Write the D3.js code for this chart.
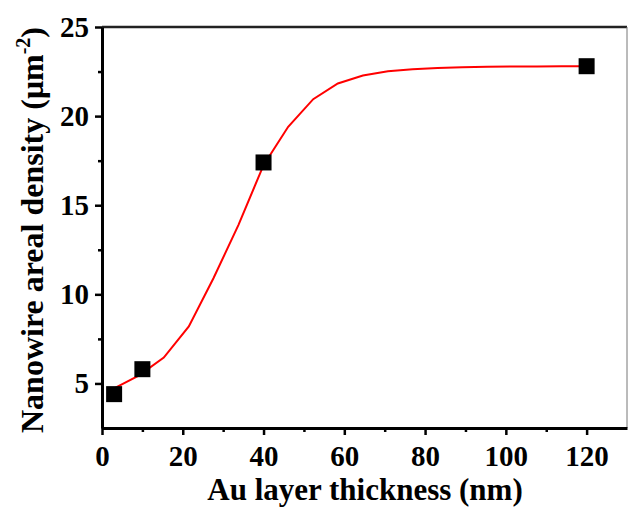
<!DOCTYPE html>
<html>
<head>
<meta charset="utf-8">
<script src="https://cdn.jsdelivr.net/npm/d3@7"></script>
<style>
  body { margin: 0; background: #fff; }
  svg { display: block; }
</style>
</head>
<body>
<div id="chart"></div>
<script>
// measured points
var thickness = [3, 10, 40, 120];
var density = [4.4, 5.8, 17.4, 22.8];

// fitted curve
var fitX = [3, 9.2, 15.3, 21.5, 27.6, 33.8, 40, 46.1, 52.3, 58.4, 64.6, 70.8, 76.9, 83.1, 89.2, 95.4, 101.6, 107.7, 113.8, 120];
var fitY = [4.72, 5.45, 6.45, 8.2, 10.9, 13.9, 17.25, 19.4, 20.95, 21.83, 22.28, 22.52, 22.63, 22.7, 22.74, 22.77, 22.78, 22.79, 22.8, 22.8];

var xTicks = [0, 20, 40, 60, 80, 100, 120];
var xMinor = [10, 30, 50, 70, 90, 110];
var yTicks = [5, 10, 15, 20, 25];
var yMinor = [7.5, 12.5, 17.5, 22.5];

var width = 628, height = 508;
var margin = { left: 102, top: 27, right: 1, bottom: 80 };
var fontFamily = "'Liberation Serif', 'Times New Roman', serif";

var svg = d3.select("#chart").append("svg")
  .attr("width", width)
  .attr("height", height);

var x = d3.scaleLinear().domain([0, 130]).range([margin.left, width - margin.right]);
var y = d3.scaleLinear().domain([2.5, 25]).range([height - margin.bottom, margin.top]);

// frame: top thick, right thin grey
svg.append("line")
  .attr("x1", x(0)).attr("x2", x(130))
  .attr("y1", y(25)).attr("y2", y(25))
  .attr("stroke", "#222").attr("stroke-width", 2.5);
svg.append("line")
  .attr("x1", x(130)).attr("x2", x(130))
  .attr("y1", y(25)).attr("y2", y(2.5))
  .attr("stroke", "#777").attr("stroke-width", 1);

// x axis
svg.append("g")
  .attr("transform", "translate(0," + y(2.5) + ")")
  .call(d3.axisBottom(x).tickValues(xTicks).tickSize(7).tickPadding(10).tickSizeOuter(0));
svg.append("g")
  .attr("transform", "translate(0," + y(2.5) + ")")
  .call(d3.axisBottom(x).tickValues(xMinor).tickSize(4).tickFormat("").tickSizeOuter(0))
  .select(".domain").remove();

// y axis
svg.append("g")
  .attr("transform", "translate(" + x(0) + ",0)")
  .call(d3.axisLeft(y).tickValues(yTicks).tickSize(7).tickPadding(6).tickSizeOuter(0));
svg.append("g")
  .attr("transform", "translate(" + x(0) + ",0)")
  .call(d3.axisLeft(y).tickValues(yMinor).tickSize(4).tickFormat("").tickSizeOuter(0))
  .select(".domain").remove();

svg.selectAll(".domain").attr("stroke", "#000").attr("stroke-width", 3);
svg.selectAll(".tick line").attr("stroke", "#000").attr("stroke-width", 2.5);
svg.selectAll(".tick text")
  .attr("fill", "#000")
  .style("font-family", fontFamily)
  .style("font-weight", "bold")
  .style("font-size", "29px");

// fit curve
var fitData = fitX.map(function (d, i) { return [d, fitY[i]]; });
svg.append("path")
  .datum(fitData)
  .attr("fill", "none")
  .attr("stroke", "#ff0000")
  .attr("stroke-width", 2)
  .attr("d", d3.line().x(function (d) { return x(d[0]); }).y(function (d) { return y(d[1]); }));

// squares
var sq = 16;
svg.selectAll("rect.pt")
  .data(thickness)
  .enter().append("rect")
  .attr("class", "pt")
  .attr("x", function (d) { return x(d) - sq / 2; })
  .attr("y", function (d, i) { return y(density[i]) - sq / 2; })
  .attr("width", sq).attr("height", sq)
  .attr("fill", "#000");

// titles
svg.append("text")
  .attr("x", 365)
  .attr("y", 500)
  .attr("text-anchor", "middle")
  .style("font-family", fontFamily)
  .style("font-weight", "bold")
  .style("font-size", "31px")
  .text("Au layer thickness (nm)");

var yt = svg.append("text")
  .attr("transform", "translate(43,230) rotate(-90)")
  .attr("text-anchor", "middle")
  .style("font-family", fontFamily)
  .style("font-weight", "bold")
  .style("font-size", "32px");
yt.append("tspan").text("Nanowire areal density (\u03bcm");
yt.append("tspan").attr("dy", -13).style("font-size", "20px").text("-2");
yt.append("tspan").attr("dy", 13).text(")");
</script>
</body>
</html>
